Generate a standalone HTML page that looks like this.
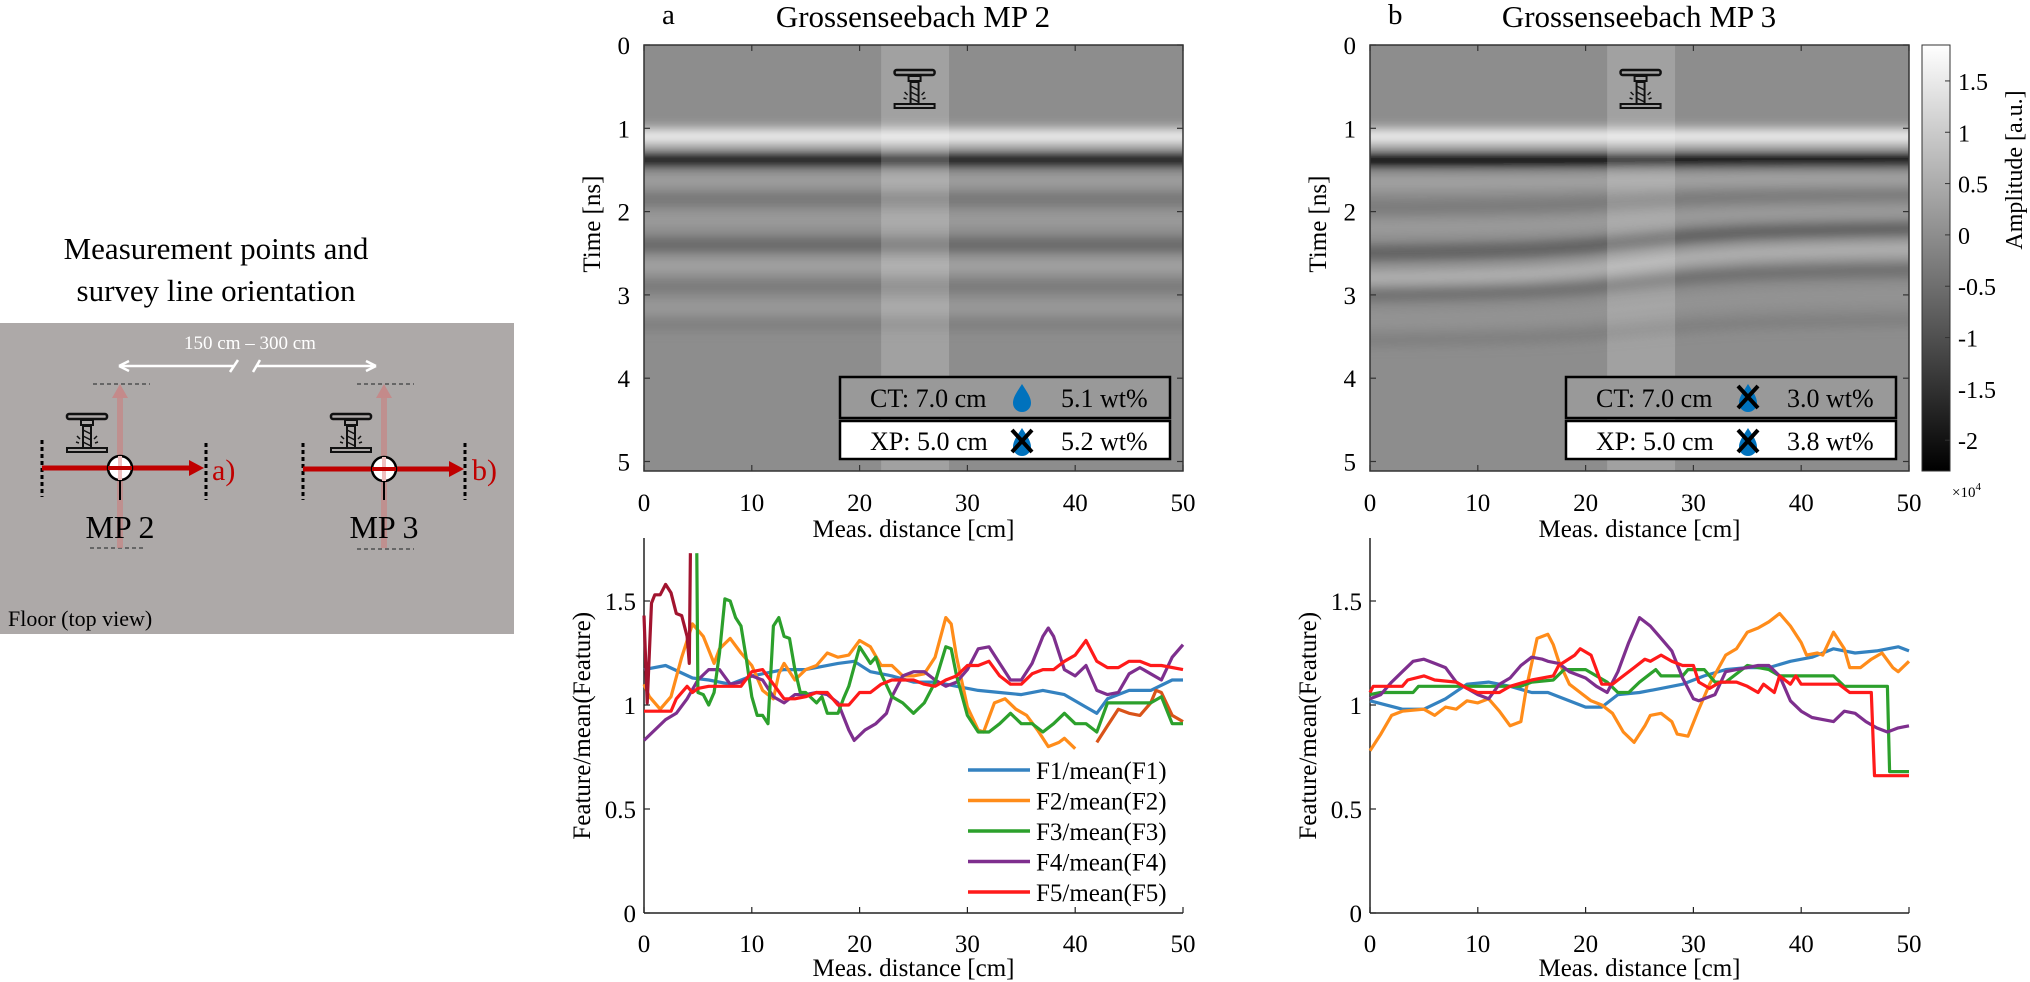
<!DOCTYPE html>
<html><head><meta charset="utf-8">
<style>
html,body{margin:0;padding:0;background:#fff;}
svg{display:block;font-family:"Liberation Serif",serif;}
</style></head>
<body>
<svg id="fig" width="2030" height="982" viewBox="0 0 2030 982" xmlns="http://www.w3.org/2000/svg">
<defs>
<filter id="blur6" x="-5%" y="-50%" width="110%" height="200%"><feGaussianBlur stdDeviation="6"/></filter>
<filter id="blur4" x="-5%" y="-50%" width="110%" height="200%"><feGaussianBlur stdDeviation="4"/></filter>
<clipPath id="clipA"><rect x="644" y="45" width="539" height="426"/></clipPath>
<clipPath id="clipB"><rect x="1370" y="45" width="539" height="426"/></clipPath>
<linearGradient id="cbar" x1="0" y1="0" x2="0" y2="1">
<stop offset="0" stop-color="#ffffff"/><stop offset="1" stop-color="#000000"/></linearGradient>
<g id="drill">
<rect x="-20" y="0" width="40" height="5" rx="2" fill="none" stroke="#111" stroke-width="2.5"/>
<rect x="-6" y="6" width="12" height="5" fill="none" stroke="#111" stroke-width="2"/>
<rect x="-4" y="12" width="8" height="22" fill="none" stroke="#111" stroke-width="2"/>
<path d="M-4 16 L4 20 M-4 22 L4 26 M-4 28 L4 32" stroke="#111" stroke-width="1.5"/>
<path d="M-10 22 l3 3 M-11 28 l3 1 M10 22 l-3 3 M11 28 l-3 1" stroke="#111" stroke-width="1.5"/>
<rect x="-20" y="34" width="40" height="4" fill="none" stroke="#111" stroke-width="2"/>
</g>
<g id="drop"><path d="M0 -14 C5 -6 9 -1 9 5 A9 9 0 0 1 -9 5 C-9 -1 -5 -6 0 -14 Z" fill="#0072bd"/></g>
<g id="cross"><path d="M-10 -12 L10 10 M10 -12 L-10 10" stroke="#000" stroke-width="4"/></g>
</defs>

<!-- LEFT DIAGRAM -->
<g>
<text x="216" y="259" font-size="31" text-anchor="middle">Measurement points and</text>
<text x="216" y="301" font-size="31" text-anchor="middle">survey line orientation</text>
<rect x="0" y="323" width="514" height="311" fill="#ada9a8"/>
<text x="250" y="349" font-size="19" fill="#fff" text-anchor="middle">150 cm – 300 cm</text>
<g stroke="#fff" stroke-width="2.5" fill="none">
<path d="M119 366 L234 366 M230 372 L238 360"/><path d="M119 366 l10 -5 M119 366 l10 5"/>
<path d="M253 372 L260 360 M257 366 L376 366 M376 366 l-10 -5 M376 366 l-10 5"/>
</g>
<g>
<line x1="93" y1="384" x2="150" y2="384" stroke="#666" stroke-width="2" stroke-dasharray="4 3"/>
<line x1="90" y1="548" x2="146" y2="548" stroke="#666" stroke-width="2" stroke-dasharray="4 3"/>
<line x1="120" y1="395" x2="120" y2="548" stroke="#c48a8a" stroke-width="6" opacity="0.8"/>
<path d="M112 398 L120 384 L128 398 Z" fill="#c48a8a"/>
<line x1="42" y1="440" x2="42" y2="497" stroke="#000" stroke-width="3" stroke-dasharray="4 3"/>
<line x1="206" y1="443" x2="206" y2="500" stroke="#000" stroke-width="3" stroke-dasharray="4 3"/>
<line x1="42" y1="468" x2="190" y2="468" stroke="#c00000" stroke-width="5"/>
<path d="M189 460 L204 468 L189 476 Z" fill="#c00000"/>
<line x1="120" y1="480" x2="120" y2="500" stroke="#000" stroke-width="2"/>
<circle cx="120" cy="468" r="12" fill="#fff" stroke="#000" stroke-width="2.5"/>
<line x1="120" y1="456" x2="120" y2="480" stroke="#f0c0c0" stroke-width="4"/>
<line x1="108" y1="468" x2="132" y2="468" stroke="#c00000" stroke-width="4"/>
<use href="#drill" x="87" y="414"/>
<text x="212" y="480" font-size="30" fill="#c00000">a)</text>
<text x="120" y="538" font-size="32" text-anchor="middle">MP 2</text>
</g>
<g transform="translate(264,0)">
<line x1="93" y1="384" x2="150" y2="384" stroke="#666" stroke-width="2" stroke-dasharray="4 3"/>
<line x1="93" y1="549" x2="150" y2="549" stroke="#666" stroke-width="2" stroke-dasharray="4 3"/>
<line x1="120" y1="395" x2="120" y2="548" stroke="#c48a8a" stroke-width="6" opacity="0.8"/>
<path d="M112 398 L120 384 L128 398 Z" fill="#c48a8a"/>
<line x1="39" y1="443" x2="39" y2="500" stroke="#000" stroke-width="3" stroke-dasharray="4 3"/>
<line x1="201" y1="443" x2="201" y2="500" stroke="#000" stroke-width="3" stroke-dasharray="4 3"/>
<line x1="39" y1="469" x2="186" y2="469" stroke="#c00000" stroke-width="5"/>
<path d="M185 461 L200 469 L185 477 Z" fill="#c00000"/>
<line x1="120" y1="480" x2="120" y2="500" stroke="#000" stroke-width="2"/>
<circle cx="120" cy="469" r="12" fill="#fff" stroke="#000" stroke-width="2.5"/>
<line x1="120" y1="457" x2="120" y2="481" stroke="#f0c0c0" stroke-width="4"/>
<line x1="108" y1="469" x2="132" y2="469" stroke="#c00000" stroke-width="4"/>
<use href="#drill" x="87" y="414"/>
<text x="208" y="480" font-size="30" fill="#c00000">b)</text>
<text x="120" y="538" font-size="32" text-anchor="middle">MP 3</text>
</g>
<text x="8" y="626" font-size="22">Floor (top view)</text>
</g>

<!-- TOP PANELS (radargrams) -->
<text x="662" y="24" font-size="29">a</text>
<text x="913" y="27" font-size="31" text-anchor="middle">Grossenseebach MP 2</text>
<text x="1388" y="24" font-size="29">b</text>
<text x="1639" y="27" font-size="31" text-anchor="middle">Grossenseebach MP 3</text>

<g id="radA" clip-path="url(#clipA)"></g>
<g id="radB" clip-path="url(#clipB)"></g>
<g id="axesTop"></g>
<g id="axesBottom"></g>

<!-- colorbar -->
<g>
<rect x="1922" y="45" width="28" height="426" fill="url(#cbar)" stroke="#333" stroke-width="1"/>
<g id="cbTicks" font-size="24"></g>
<text transform="translate(2022,170) rotate(-90)" font-size="24" text-anchor="middle">Amplitude [a.u.]</text>
<text x="1952" y="497" font-size="15">×10<tspan dy="-7" font-size="11">4</tspan></text>
</g>
</svg>

<script>
// ---------- data ----------
const xTicks = [0,10,20,30,40,50];
const tTicks = [0,1,2,3,4,5];
const fTicks = [0,0.5,1,1.5];
const fTickLabels = ["0","0.5","1","1.5"];
const cbTicks = [1.5,1,0.5,0,-0.5,-1,-1.5,-2];
const cbTickLabels = ["1.5","1","0.5","0","-0.5","-1","-1.5","-2"];
const seriesNames = ["F1/mean(F1)","F2/mean(F2)","F3/mean(F3)","F4/mean(F4)","F5/mean(F5)"];
const seriesColors = ["#3482c0","#ff8c1a","#2ca02c","#7e2f8e","#ff1a1a"];

// Panel a (MP 2) series: [x, value] pairs
const a_F1 = [[0,1.17],[2,1.19],[4.5,1.13],[6,1.12],[8,1.10],[10,1.14],[13,1.17],[15,1.17],[18,1.20],[19.5,1.21],[21,1.16],[23,1.14],[25,1.11],[27,1.11],[29,1.09],[31,1.07],[33,1.06],[35,1.05],[37,1.07],[39,1.05],[41,0.99],[42,0.96],[43,1.03],[45,1.07],[47,1.07],[49,1.12],[50,1.12]];
const a_F2 = [[0,1.10],[0.5,1.04],[1.5,0.98],[2.5,1.04],[3.5,1.23],[4.5,1.39],[5.5,1.33],[6.5,1.20],[7,1.27],[8,1.32],[9,1.25],[10,1.19],[11,1.07],[12,1.03],[12.5,1.15],[13,1.20],[14,1.12],[15,1.17],[16,1.19],[17,1.25],[18,1.23],[19,1.24],[20,1.31],[21,1.28],[22,1.19],[23,1.19],[24,1.14],[25,1.14],[26,1.15],[27,1.23],[28,1.42],[28.5,1.39],[29,1.23],[30,0.99],[31,0.88],[31.5,0.87],[32.5,1.01],[33.5,1.03],[34.5,0.98],[35.5,0.95],[36.5,0.88],[37.5,0.80],[38.5,0.82],[39,0.84],[40,0.79]];
const a_F2b = [[42,0.82],[43,0.90],[44,0.98],[45,0.96],[46,0.95],[47,1.01],[47.5,1.07],[48,1.06],[49,0.95],[50,0.92]];
const a_F3 = [[4.9,1.73],[5,1.06],[5.5,1.05],[6,1.00],[6.5,1.06],[7,1.25],[7.5,1.51],[8,1.50],[8.5,1.42],[9,1.38],[9.5,1.22],[10,1.04],[10.5,0.95],[11,0.95],[11.5,0.91],[12,1.38],[12.5,1.42],[13,1.33],[13.5,1.32],[14,1.17],[14.5,1.06],[15,1.06],[16,1.01],[16.5,1.04],[17,0.96],[18,0.96],[18.5,1.03],[19,1.09],[20,1.28],[21,1.20],[21.5,1.23],[22,1.15],[23,1.04],[24,1.01],[25,0.96],[26,1.01],[27,1.11],[28,1.28],[28.5,1.27],[29,1.14],[30,0.95],[31,0.87],[32,0.87],[33,0.91],[34,0.96],[35,0.91],[36,0.91],[37,0.87],[38,0.91],[39,0.96],[40,0.91],[41,0.91],[42,0.87],[43,1.01],[44,1.01],[45,1.01],[46,1.01],[47,1.01],[48,1.04],[49,0.91],[50,0.91]];
const a_F4 = [[0,0.83],[1,0.88],[2,0.93],[3,0.96],[4,1.03],[5,1.12],[6,1.17],[7,1.17],[8,1.10],[9,1.11],[10,1.14],[11,1.12],[12,1.04],[13,1.01],[14,1.05],[15,1.05],[16,1.06],[17,1.05],[18,1.01],[19,0.88],[19.5,0.83],[20.5,0.88],[21.5,0.91],[22.5,0.96],[23,1.04],[24,1.14],[25,1.16],[26,1.16],[27,1.12],[28,1.09],[29,1.11],[30,1.17],[31,1.27],[32,1.28],[33,1.20],[34,1.12],[35,1.12],[36,1.20],[37,1.33],[37.5,1.37],[38,1.33],[39,1.17],[40,1.14],[41,1.19],[42,1.07],[43,1.05],[44,1.06],[45,1.15],[46,1.18],[47,1.15],[48,1.12],[49,1.23],[50,1.29]];
const a_F5 = [[0,0.97],[2.5,0.97],[3,1.03],[4,1.09],[4.5,1.06],[5,1.08],[6,1.09],[9,1.09],[10,1.16],[11,1.17],[12,1.10],[13,1.03],[14,1.03],[15,1.04],[16,1.06],[17,1.06],[18,1.00],[19,1.00],[20,1.06],[21,1.06],[22,1.10],[23,1.12],[25,1.12],[26,1.10],[27,1.09],[28,1.12],[29,1.14],[30,1.19],[31,1.19],[32,1.21],[33,1.14],[34,1.10],[35,1.10],[36,1.15],[37,1.17],[38,1.17],[39,1.21],[40,1.24],[41,1.31],[42,1.21],[43,1.18],[44,1.18],[45,1.21],[46,1.21],[47,1.19],[48,1.19],[50,1.17]];
const a_F5b = [[0,1.43],[0.3,1.01],[0.7,1.49],[1,1.53],[1.5,1.53],[2,1.58],[2.5,1.54],[3,1.44],[3.5,1.43],[4,1.33],[4.2,1.20],[4.3,1.73]];

// Panel b (MP 3) series
const b_F1 = [[0,1.02],[3,0.98],[5,0.98],[7,1.03],[9,1.10],[11,1.11],[13,1.09],[15,1.06],[16.5,1.06],[18,1.03],[20,0.99],[21.5,0.99],[23,1.05],[25,1.06],[27,1.08],[29,1.10],[31,1.14],[33,1.17],[35,1.18],[37,1.18],[39,1.21],[41,1.23],[43,1.27],[45,1.25],[47,1.26],[49,1.28],[50,1.26]];
const b_F2 = [[0,0.78],[1,0.86],[2,0.95],[3,0.97],[5,0.98],[6,0.95],[7,0.99],[8,0.98],[9,1.02],[10,1.01],[11,1.03],[12,0.97],[13,0.90],[14,0.92],[14.5,1.08],[15.5,1.32],[16.5,1.34],[17,1.29],[17.5,1.21],[18.5,1.10],[19.5,1.06],[20.5,1.02],[21.5,1.00],[22.5,0.96],[23.5,0.87],[24.5,0.82],[25.5,0.90],[26,0.95],[27,0.96],[28,0.92],[28.5,0.86],[29.5,0.85],[30.5,0.98],[31.5,1.10],[33,1.24],[34,1.27],[35,1.35],[36,1.37],[37,1.40],[38,1.44],[39,1.38],[40,1.30],[40.5,1.24],[41.5,1.25],[42,1.24],[43,1.35],[44,1.27],[44.5,1.18],[45.5,1.18],[46.5,1.22],[47.5,1.25],[48.5,1.18],[49,1.16],[50,1.21]];
const b_F3 = [[0,1.05],[1,1.06],[4,1.06],[4.5,1.09],[14,1.09],[15,1.11],[17,1.12],[18,1.17],[20,1.17],[21,1.14],[22,1.11],[23,1.06],[24,1.06],[25,1.11],[26.5,1.17],[27,1.14],[29,1.14],[29.5,1.17],[31,1.17],[32,1.11],[33,1.11],[35,1.19],[37,1.17],[38,1.14],[43,1.14],[44,1.09],[48,1.09],[48.2,0.68],[50,0.68]];
const b_F4 = [[0,1.03],[1,1.05],[2,1.11],[3,1.16],[4,1.21],[5,1.22],[6,1.20],[7,1.18],[8,1.11],[9,1.08],[10,1.05],[11,1.03],[12,1.10],[13,1.13],[14,1.19],[15,1.23],[16,1.22],[16.5,1.21],[17.5,1.20],[18.5,1.16],[20,1.13],[21,1.09],[22,1.06],[23,1.16],[24,1.30],[25,1.42],[26,1.38],[27,1.32],[28,1.26],[29,1.13],[30,1.03],[30.5,1.02],[32,1.05],[33,1.16],[34,1.17],[35,1.18],[36,1.19],[37,1.19],[38,1.14],[39,1.02],[40,0.97],[41,0.94],[42,0.93],[43,0.92],[44,0.97],[45,0.96],[46,0.92],[47,0.89],[48,0.87],[49,0.89],[50,0.90]];
const b_F5 = [[0,1.06],[0.3,1.09],[3,1.09],[3.5,1.12],[5,1.14],[6,1.12],[8,1.11],[9,1.08],[10,1.06],[12,1.06],[13,1.09],[15,1.12],[17,1.14],[17.5,1.19],[19,1.24],[19.5,1.27],[20.5,1.24],[21.5,1.10],[22.5,1.10],[23,1.12],[24.5,1.18],[25.5,1.22],[26,1.21],[27,1.24],[28,1.21],[29,1.19],[30,1.19],[30.5,1.11],[31.5,1.08],[32.5,1.11],[34,1.11],[35,1.09],[36,1.06],[36.5,1.10],[37.5,1.06],[38,1.14],[39,1.10],[39.5,1.14],[40,1.10],[43.5,1.10],[44.5,1.06],[46.5,1.06],[46.8,0.66],[50,0.66]];

// radargram reflector bands: [time at x=0, time at x=50, brightness(0..255), width(ns)]
const radA_bands = [[1.1,1.1,255,0.16],[1.38,1.38,10,0.16],[1.62,1.62,165,0.12],[1.85,1.85,110,0.12],[2.1,2.1,160,0.12],[2.4,2.4,95,0.14],[2.65,2.65,170,0.12],[2.9,2.9,115,0.12],[3.15,3.15,160,0.1],[3.35,3.35,120,0.1]];
const radB_bands = [[1.1,1.1,255,0.16],[1.38,1.38,5,0.16],[1.65,1.6,170,0.12],[1.95,1.8,115,0.12],[2.2,2.0,160,0.12],[2.5,2.2,85,0.14],[2.8,2.45,185,0.14],[3.0,2.7,100,0.12],[3.3,3.0,150,0.12],[3.55,3.3,120,0.1]];

// ---------- helpers ----------
const NS = "http://www.w3.org/2000/svg";
function mk(tag, attrs, parent){const e=document.createElementNS(NS,tag);for(const k in attrs)e.setAttribute(k,attrs[k]);if(parent)parent.appendChild(e);return e;}
const top_Y0 = 45, top_Y1 = 471, nsPx = 83.3;
const bot_Yzero = 913, unitPx = 208, bot_Ytop = 538;
const panels = [{x0:644,x1:1183,rad:"radA",bands:radA_bands,ylab:600,ylabB:590},{x0:1370,x1:1909,rad:"radB",bands:radB_bands,ylab:1326,ylabB:1316}];
function sx(p,v){return p.x0 + (p.x1-p.x0)*v/50;}
function ty(t){return top_Y0 + t*nsPx;}
function fy(v){return bot_Yzero - v*unitPx;}
function gray(b){const h=Math.round(b).toString(16).padStart(2,'0');return '#'+h+h+h;}

const axesTop = document.getElementById('axesTop');
const axesBottom = document.getElementById('axesBottom');

panels.forEach((p,pi)=>{
  // radargram
  const g = document.getElementById(p.rad);
  const bg = mk('rect',{x:p.x0,y:top_Y0,width:p.x1-p.x0,height:top_Y1-top_Y0,fill:'#8d8d8d'},g);
  
  
  const bandG = mk('g',{filter:'url(#blur6)'},g);
  p.bands.forEach(b=>{
    const n=10; let d='';
    for(let i=0;i<=n;i++){
      const xv=i*5; const f=xv/50;
      // smooth sigmoid transition for dipping layers
      const s = 1/(1+Math.exp(-(xv-25)/4));
      const t = b[0] + (b[1]-b[0])*(b[0]===b[1]?0:(0.35*f+0.65*s));
      d += (i?'L':'M') + (sx(p,xv)+(i==0?-20:i==n?20:0)) + ' ' + ty(t);
    }
    const el = mk('path',{d:d,fill:'none',stroke:gray(b[2]),'stroke-width':b[3]*nsPx},bandG);
    
    
  });
  const hl = mk('rect',{x:sx(p,22),y:top_Y0,width:sx(p,28.3)-sx(p,22),height:top_Y1-top_Y0,fill:'#ffffff',opacity:0.18},g);
  
  
  const dr = mk('use',{href:'#drill',x:sx(p,25.1),y:70},g);
  
  

  // info boxes
  const bx = p.x0+196, bw = 330;
  const ct = mk('g',{},axesTop);
  
  
  mk('rect',{x:bx,y:377,width:bw,height:41,fill:'#999',stroke:'#000','stroke-width':2.5},ct);
  mk('text',{x:bx+30,y:407,'font-size':26},ct).textContent='CT: 7.0 cm';
  mk('use',{href:'#drop',x:bx+182,y:398},ct);
  if(pi===1) mk('use',{href:'#cross',x:bx+182,y:398},ct);
  mk('text',{x:bx+221,y:407,'font-size':26},ct).textContent=pi===0?'5.1 wt%':'3.0 wt%';
  const xp = mk('g',{},axesTop);
  
  
  mk('rect',{x:bx,y:421,width:bw,height:38,fill:'#fff',stroke:'#000','stroke-width':2.5},xp);
  mk('text',{x:bx+30,y:450,'font-size':26},xp).textContent='XP: 5.0 cm';
  mk('use',{href:'#drop',x:bx+182,y:442},xp);
  mk('use',{href:'#cross',x:bx+182,y:442},xp);
  mk('text',{x:bx+221,y:450,'font-size':26},xp).textContent=pi===0?'5.2 wt%':'3.8 wt%';

  // top axes
  const frame = mk('rect',{x:p.x0,y:top_Y0,width:p.x1-p.x0,height:top_Y1-top_Y0,fill:'none',stroke:'#333','stroke-width':1.5},axesTop);
  
  
  xTicks.forEach(v=>{
    const x=sx(p,v);
    mk('line',{x1:x,y1:top_Y1,x2:x,y2:top_Y1-6,stroke:'#333','stroke-width':1.2},axesTop);
    mk('line',{x1:x,y1:top_Y0,x2:x,y2:top_Y0+6,stroke:'#333','stroke-width':1.2},axesTop);
    const t=mk('text',{x:x,y:511,'font-size':25,'text-anchor':'middle'},axesTop);
    
    
    t.textContent=v;
  });
  tTicks.forEach(v=>{
    const y=ty(v);
    mk('line',{x1:p.x0,y1:y,x2:p.x0+6,y2:y,stroke:'#333','stroke-width':1.2},axesTop);
    mk('line',{x1:p.x1,y1:y,x2:p.x1-6,y2:y,stroke:'#333','stroke-width':1.2},axesTop);
    const t=mk('text',{x:p.x0-14,y:y+9,'font-size':25,'text-anchor':'end'},axesTop);
    
    
    t.textContent=v;
  });
  const xl=mk('text',{x:(p.x0+p.x1)/2,y:537,'font-size':25,'text-anchor':'middle'},axesTop);
  
  
  xl.textContent='Meas. distance [cm]';
  const yl=mk('text',{transform:`translate(${p.ylab},${ty(2.15)}) rotate(-90)`,'font-size':25,'text-anchor':'middle'},axesTop);
  
  
  yl.textContent='Time [ns]';

  // bottom axes
  mk('line',{x1:p.x0,y1:bot_Ytop,x2:p.x0,y2:bot_Yzero,stroke:'#222','stroke-width':1.5},axesBottom);
  mk('line',{x1:p.x0,y1:bot_Yzero,x2:p.x1,y2:bot_Yzero,stroke:'#222','stroke-width':1.5},axesBottom);
  xTicks.forEach(v=>{
    const x=sx(p,v);
    mk('line',{x1:x,y1:bot_Yzero,x2:x,y2:bot_Yzero-6,stroke:'#222','stroke-width':1.2},axesBottom);
    const t=mk('text',{x:x,y:952,'font-size':25,'text-anchor':'middle'},axesBottom);
    
    
    t.textContent=v;
  });
  fTicks.forEach((v,i)=>{
    const y=fy(v);
    mk('line',{x1:p.x0,y1:y,x2:p.x0+6,y2:y,stroke:'#222','stroke-width':1.2},axesBottom);
    const t=mk('text',{x:p.x0-8,y:y+9,'font-size':25,'text-anchor':'end'},axesBottom);
    
    
    t.textContent=fTickLabels[i];
  });
  const bxl=mk('text',{x:(p.x0+p.x1)/2,y:976,'font-size':25,'text-anchor':'middle'},axesBottom);
  
  
  bxl.textContent='Meas. distance [cm]';
  const byl=mk('text',{transform:`translate(${p.ylabB},${fy(0.9)}) rotate(-90)`,'font-size':25,'text-anchor':'middle'},axesBottom);
  
  
  byl.textContent='Feature/mean(Feature)';
});

function drawLine(p, pts, color, name){
  const d = pts.map((q,i)=>(i?'L':'M')+sx(p,q[0]).toFixed(1)+' '+fy(q[1]).toFixed(1)).join(' ');
  const el = mk('path',{d:d,fill:'none',stroke:color,'stroke-width':3.2,'stroke-linejoin':'round'},axesBottom);
  
  
}
const pa=panels[0], pb=panels[1];
drawLine(pa,a_F1,seriesColors[0],'line-f1-mp2');
drawLine(pa,a_F2,seriesColors[1],'line-f2-mp2');
drawLine(pa,a_F2b,'#d95319','line-f2-mp2-tail');
drawLine(pa,a_F4,seriesColors[3],'line-f4-mp2');
drawLine(pa,a_F3,seriesColors[2],'line-f3-mp2');
drawLine(pa,a_F5,seriesColors[4],'line-f5-mp2');
drawLine(pa,a_F5b,'#a2142f','line-f5-mp2-start');
drawLine(pb,b_F1,seriesColors[0],'line-f1-mp3');
drawLine(pb,b_F2,seriesColors[1],'line-f2-mp3');
drawLine(pb,b_F3,seriesColors[2],'line-f3-mp3');
drawLine(pb,b_F4,seriesColors[3],'line-f4-mp3');
drawLine(pb,b_F5,seriesColors[4],'line-f5-mp3');

// legend
const lg = mk('g',{},axesBottom);


seriesNames.forEach((n,i)=>{
  const y = 770 + i*30.5;
  const e = mk('g',{},lg);
  
  
  mk('line',{x1:968,y1:y,x2:1030,y2:y,stroke:seriesColors[i],'stroke-width':3.5},e);
  mk('text',{x:1036,y:y+9,'font-size':25},e).textContent=n;
});

// colorbar ticks
const cbG=document.getElementById('cbTicks');
const cbTop=1.85, cbBot=-2.3;
cbTicks.forEach((v,i)=>{
  const y=45+(cbTop-v)/(cbTop-cbBot)*426;
  mk('line',{x1:1950,y1:y,x2:1945,y2:y,stroke:'#333','stroke-width':1},cbG);
  const t=mk('text',{x:1958,y:y+9},cbG);
  
  
  t.textContent=cbTickLabels[i];
});
</script>
</body></html>
